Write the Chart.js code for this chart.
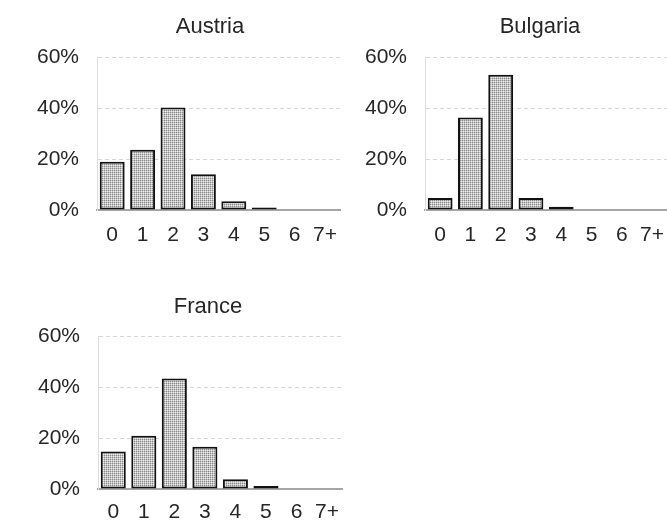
<!DOCTYPE html>
<html>
<head>
<meta charset="utf-8">
<script src="https://cdn.jsdelivr.net/npm/chart.js@4.4.1/dist/chart.umd.min.js"></script>
<style>
    html, body { margin: 0; padding: 0; background: #fff; width: 667px; height: 522px; overflow: hidden; }
    .panel { position: absolute; }
    .title {
        position: absolute;
        width: 200px;
        text-align: center;
        font-family: 'Liberation Sans', Arial, sans-serif;
        font-size: 22px;
        line-height: 26px;
        color: #262626;
    }
</style>
</head>
<body>
<div class="panel" style="left:0px; top:0px; width:350px; height:250px;"><canvas id="austria"></canvas></div>
<div class="panel" style="left:330px; top:0px; width:347px; height:250px;"><canvas id="bulgaria"></canvas></div>
<div class="panel" style="left:0px; top:279px; width:350px; height:250px;"><canvas id="france"></canvas></div>
<div class="title" style="left:110px; top:13px;">Austria</div>
<div class="title" style="left:440px; top:13px;">Bulgaria</div>
<div class="title" style="left:108px; top:293px;">France</div>
<script>
    "use strict";

    // number of children, share of households (%)
    var categories = ["0", "1", "2", "3", "4", "5", "6", "7+"];
    var austria = [18.9, 23.6, 40.2, 14.0, 3.4, 1.0, 0.2, 0.2];
    var bulgaria = [4.7, 36.3, 53.0, 4.7, 1.3, 0.2, 0.2, 0.2];
    var france = [14.7, 20.9, 43.3, 16.6, 3.8, 1.2, 0.2, 0.2];
    var yTicks = [0, 20, 40, 60];

    var FONT = "'Liberation Sans', Arial, sans-serif";
    var TEXT = "#262626";

    // dotted grey fill like the original halftone bars
    function dotPattern () {
        var c = document.createElement("canvas"),
            g = c.getContext("2d");
        c.width = 2;
        c.height = 2;
        g.fillStyle = "#eeeeee";
        g.fillRect(0, 0, 2, 2);
        g.fillStyle = "#888888";
        g.fillRect(0, 0, 1, 1);
        g.fillStyle = "#c4c4c4";
        g.fillRect(1, 0, 1, 1);
        g.fillRect(0, 1, 1, 1);
        return g.createPattern(c, "repeat");
    }

    function makePanel (id, values, axisWidth, labelPad) {
        return new Chart(document.getElementById(id), {
            type: "bar",
            data: {
                labels: categories,
                datasets: [{
                    data: values,
                    backgroundColor: dotPattern(),
                    borderColor: "#111111",
                    borderWidth: 2,
                    borderSkipped: false,
                    barPercentage: 0.82,
                    categoryPercentage: 1
                }]
            },
            options: {
                responsive: true,
                maintainAspectRatio: false,
                animation: false,
                layout: { padding: { top: 57 } },
                plugins: {
                    legend: { display: false },
                    tooltip: { enabled: false }
                },
                scales: {
                    x: {
                        grid: { display: false, drawTicks: false },
                        border: { display: true, color: "#a6a6a6", width: 2 },
                        ticks: {
                            color: TEXT,
                            padding: labelPad,
                            maxRotation: 0,
                            font: { family: FONT, size: 21 }
                        },
                        afterFit: function (scale) { scale.height = 40; }
                    },
                    y: {
                        min: 0,
                        max: 60,
                        afterBuildTicks: function (scale) {
                            scale.ticks = yTicks.map(function (v) { return { value: v }; });
                        },
                        grid: { color: "#d6d6d6", lineWidth: 1, drawTicks: false },
                        border: { display: true, color: "#dcdcdc", width: 1, dash: [4, 3] },
                        ticks: {
                            color: TEXT,
                            padding: 18,
                            font: { family: FONT, size: 21 },
                            callback: function (value) { return value + "%"; }
                        },
                        afterFit: function (scale) { scale.width = axisWidth; }
                    }
                }
            }
        });
    }

    makePanel("austria", austria, 97, 13);
    makePanel("bulgaria", bulgaria, 95, 13);
    makePanel("france", france, 98, 11);
</script>
</body>
</html>
